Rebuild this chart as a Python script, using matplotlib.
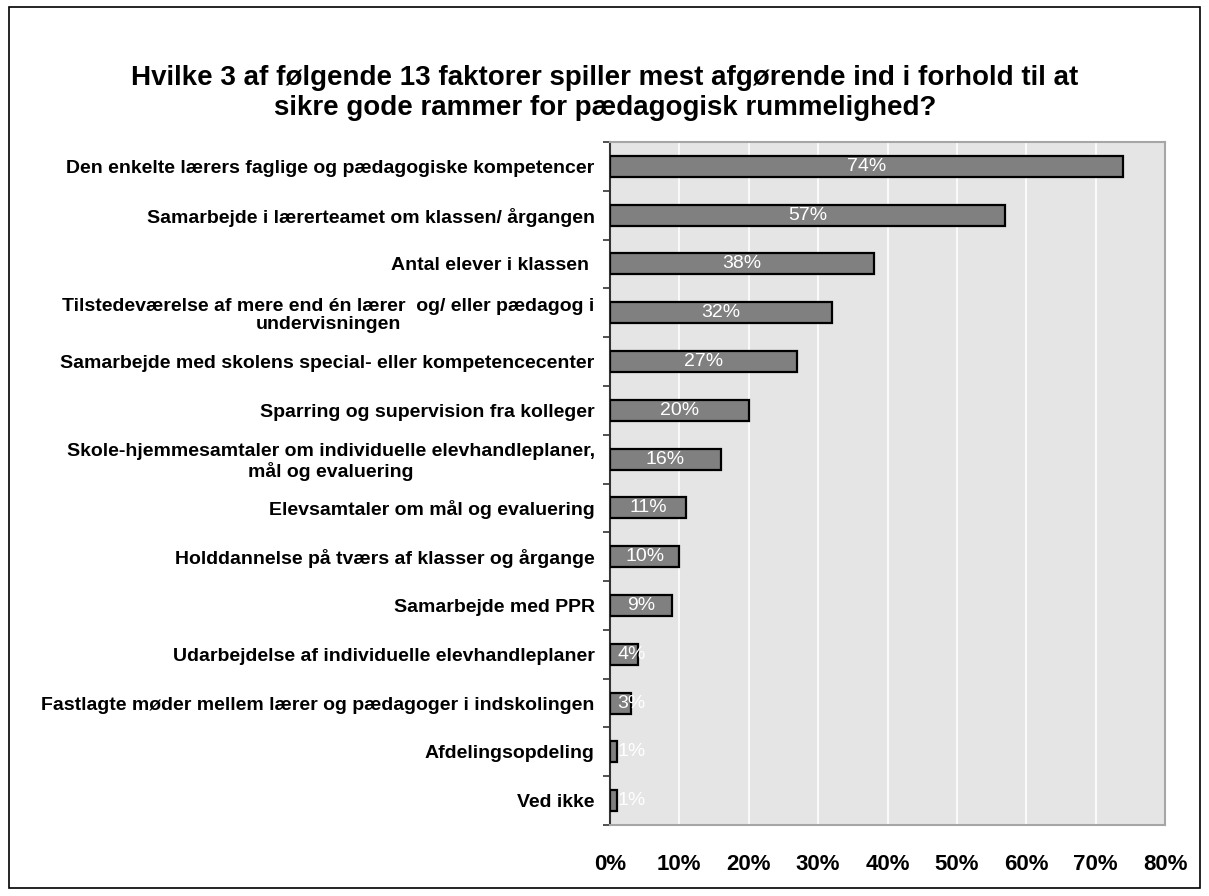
import matplotlib
matplotlib.use("Agg")
import matplotlib.pyplot as plt
from matplotlib.patches import Rectangle
import numpy as np

plt.rcParams['font.family'] = ['Liberation Sans', 'DejaVu Sans']

title = ("Hvilke 3 af følgende 13 faktorer spiller mest afgørende ind i forhold til at\n"
         "sikre gode rammer for pædagogisk rummelighed?")

categories = [
    "Den enkelte lærers faglige og pædagogiske kompetencer",
    "Samarbejde i lærerteamet om klassen/ årgangen",
    "Antal elever i klassen ",
    "Tilstedeværelse af mere end én lærer  og/ eller pædagog i\nundervisningen",
    "Samarbejde med skolens special- eller kompetencecenter",
    "Sparring og supervision fra kolleger",
    "Skole-hjemmesamtaler om individuelle elevhandleplaner,\nmål og evaluering",
    "Elevsamtaler om mål og evaluering",
    "Holddannelse på tværs af klasser og årgange",
    "Samarbejde med PPR",
    "Udarbejdelse af individuelle elevhandleplaner",
    "Fastlagte møder mellem lærer og pædagoger i indskolingen",
    "Afdelingsopdeling",
    "Ved ikke",
]
values = [74, 57, 38, 32, 27, 20, 16, 11, 10, 9, 4, 3, 1, 1]
xticks = [0, 10, 20, 30, 40, 50, 60, 70, 80]
xticklabels = ["0%", "10%", "20%", "30%", "40%", "50%", "60%", "70%", "80%"]

fig = plt.figure(figsize=(12.09, 8.96), dpi=100)
ax = fig.add_axes([610/1209, 1-825/896, (1165-610)/1209, (825-142)/896])

n = len(categories)
y = np.arange(n)
ax.barh(y, values, height=0.43, color="#808080", edgecolor="black", linewidth=1.6, zorder=3)
ax.set_ylim(n - 0.5, -0.5)
ax.set_xlim(0, 80)
ax.set_facecolor("#E5E5E5")

ax.set_xticks(xticks)
ax.set_xticklabels(xticklabels, fontsize=16, fontweight="bold")
ax.tick_params(axis="x", length=0, pad=21)
ax.grid(axis="x", color="white", linewidth=1.2, zorder=1)

ax.set_yticks(y)
ax.set_yticklabels(categories, fontsize=14, fontweight="bold", multialignment="center",
                   linespacing=1.1)
ax.tick_params(axis="y", which="major", length=0, pad=11)
ax.set_yticks(np.arange(-0.5, n, 1.0), minor=True)
ax.tick_params(axis="y", which="minor", length=5, width=1.2, color="#333333", direction="out")

for s in ["top", "right", "bottom"]:
    ax.spines[s].set_color("#A6A6A6")
    ax.spines[s].set_linewidth(1.5)
ax.spines["left"].set_color("#333333")
ax.spines["left"].set_linewidth(1.5)

for yi, v in zip(y, values):
    ax.text(max(v / 2, 3.1), yi, f"{v}%", ha="center", va="center",
            color="white", fontsize=14, zorder=4)

fig.text(605/1209, 1-93/896, title, ha="center", va="center", fontsize=20,
         fontweight="bold", linespacing=1.2)

fig.patches.append(Rectangle((9/1209, 1-888/896), (1200-9)/1209, (888-7)/896,
                             transform=fig.transFigure, fill=False,
                             edgecolor="black", linewidth=1.2))

fig.savefig("out.png", dpi=100)
